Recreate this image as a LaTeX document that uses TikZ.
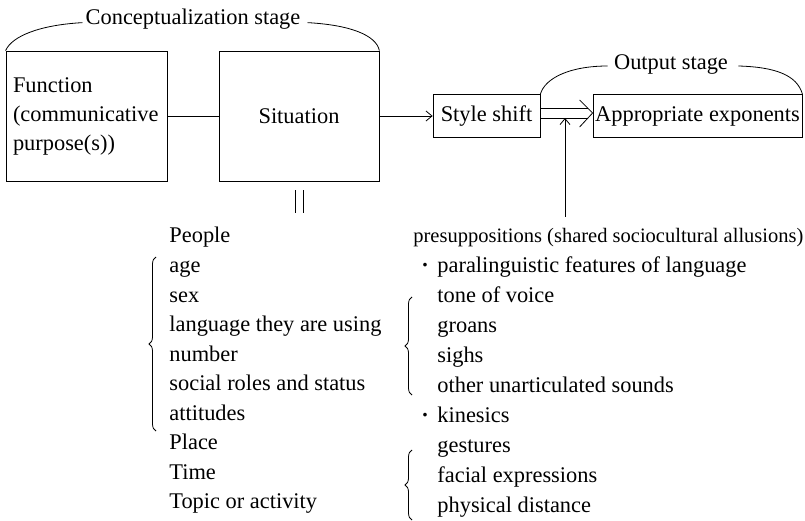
\documentclass[tikz,border=0pt]{standalone}
\usepackage{fontspec}
\setmainfont{Liberation Serif}
\usetikzlibrary{arrows.meta,decorations.pathreplacing,calc}
\newcommand\dfont{\fontsize{22.4}{29}\selectfont}
\newcommand\pfont{\fontsize{20.5}{29}\selectfont}
\newcommand\bdot{\llap{\textbf{·}\hspace{8.5pt}}}
\begin{document}
\begin{tikzpicture}[x=1pt,y=-1pt, line width=0.8pt,
  box/.style={draw, rectangle, inner sep=0pt, font=\dfont},
  lbl/.style={anchor=base west, inner sep=0pt, font=\dfont},
  stagelbl/.style={anchor=base, inner sep=0pt, font=\dfont},
  arr/.style={-{Straight Barb[length=6pt,width=10pt]}},
  brc/.style={decorate, decoration={brace, amplitude=7pt}},
]
\useasboundingbox (0,0) rectangle (805,521);

% boxes
\node[box, minimum width=161pt, minimum height=130pt, align=left, text width=147pt] (fn) at (86.5,116) {Function\\(communicative\\purpose(s))};
\node[box, minimum width=160pt, minimum height=130pt] (sit) at (299,116) {Situation};
\node[box, minimum width=107pt, minimum height=43pt] (ss) at (486.5,116) {Style shift};
\node[box, minimum width=209pt, minimum height=43pt] (ae) at (697.5,116) {Appropriate exponents};

% stage labels
\node[stagelbl] (cs) at (193,25) {Conceptualization stage};
\node[stagelbl] (os) at (671,70) {Output stage};

% stage arcs
\draw (fn.north west) .. controls (12,36) and (40,25) .. ([xshift=-3pt,yshift=-3pt]cs.west);
\draw ([xshift=7pt,yshift=-3pt]cs.east) .. controls (350,25) and (376,35) .. (sit.north east);
\draw (ss.north east) .. controls (545,78) and (570,66) .. ([xshift=-6pt,yshift=-1pt]os.west);
\draw ([xshift=10pt,yshift=-1pt]os.east) .. controls (775,67) and (797,75) .. (ae.north east);

% connectors
\draw (fn) -- (sit);
\draw[arr] (sit.east) -- (ss.west);
\draw ([yshift=8pt]ss.east) -- ([xshift=-5pt,yshift=8pt]ae.west);
\draw ([yshift=-2pt]ss.east) -- ([xshift=-5pt,yshift=-2pt]ae.west);
\draw ([xshift=-13pt,yshift=16pt]ae.west) -- ([yshift=3pt]ae.west) -- ([xshift=-13pt,yshift=-11pt]ae.west);
\coordinate (vb) at (565,217);
\coordinate (vt) at (565,118);
\draw[arr] (vb) -- (vt);

% equals-like bars under Situation
\draw ([xshift=-4pt,yshift=-9pt]sit.south) -- ++(0,23);
\draw ([xshift=4pt,yshift=-9pt]sit.south) -- ++(0,23);

% left list
\node[lbl] (people) at (169,243) {People};
\node[lbl] (age) at (169,272.5) {age};
\node[lbl] (sex) at (169,302) {sex};
\node[lbl] (lang) at (169,331.5) {language they are using};
\node[lbl] (num) at (169,361) {number};
\node[lbl] (soc) at (169,390.5) {social roles and status};
\node[lbl] (att) at (169,420) {attitudes};
\node[lbl] (place) at (169,449.5) {Place};
\node[lbl] (time) at (169,479) {Time};
\node[lbl] (topic) at (169,508.5) {Topic or activity};
\draw[brc] (156,431) -- (156,257);

% right list
\node[lbl, font=\pfont] (presup) at (413,243) {presuppositions (shared sociocultural allusions)};
\node[lbl] (para) at (437,272) {\bdot paralinguistic features of language};
\node[lbl] (tone) at (437,302) {tone of voice};
\node[lbl] (groans) at (437,332) {groans};
\node[lbl] (sighs) at (437,362) {sighs};
\node[lbl] (other) at (437,392) {other unarticulated sounds};
\node[lbl] (kin) at (437,422) {\bdot kinesics};
\node[lbl] (gest) at (437,452) {gestures};
\node[lbl] (fac) at (437,482) {facial expressions};
\node[lbl] (phys) at (437,512) {physical distance};
\draw[brc] (412,395) -- (412,297);
\draw[brc] (412,520) -- (412,450);
\end{tikzpicture}
\end{document}
